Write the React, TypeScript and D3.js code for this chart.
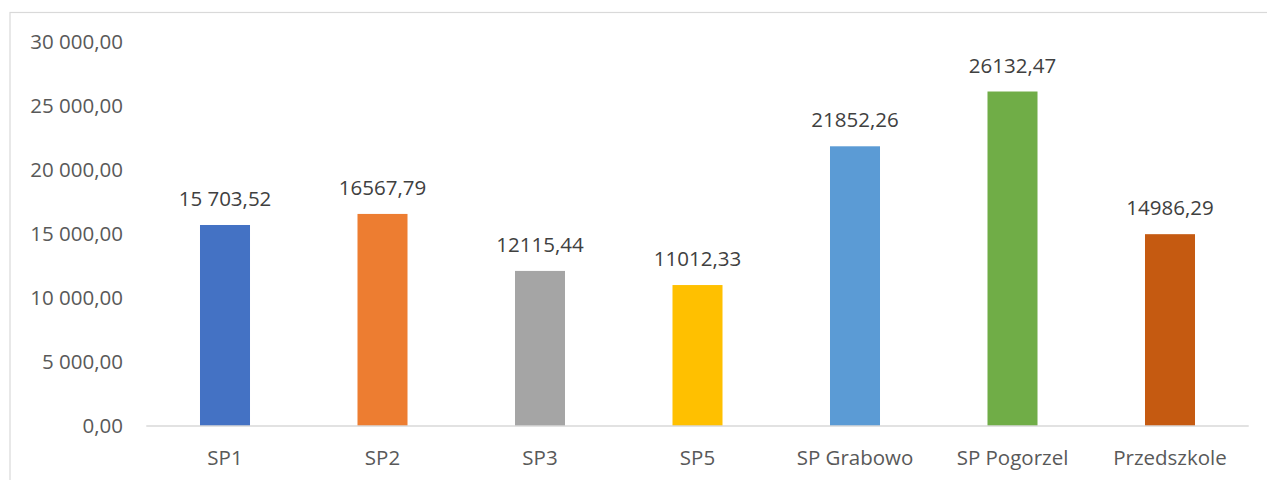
import React from "react";
import * as d3 from "d3";

const categories = ["SP1", "SP2", "SP3", "SP5", "SP Grabowo", "SP Pogorzel", "Przedszkole"];
const values = [15703.52, 16567.79, 12115.44, 11012.33, 21852.26, 26132.47, 14986.29];
const valueLabels = ["15 703,52", "16567,79", "12115,44", "11012,33", "21852,26", "26132,47", "14986,29"];
const colors = ["#4472C4", "#ED7D31", "#A5A5A5", "#FFC000", "#5B9BD5", "#70AD47", "#C55A11"];
const yTicks = [0, 5000, 10000, 15000, 20000, 25000, 30000];
const yTickLabels = ["0,00", "5 000,00", "10 000,00", "15 000,00", "20 000,00", "25 000,00", "30 000,00"];

const W = 1267;
const H = 480;
const FONT = "'Open Sans', sans-serif";

export default function App() {
  const x = d3.scaleBand<string>().domain(categories).range([146.25, 1248.75]).paddingInner(0.6825).paddingOuter(0.34125);
  const y = d3.scaleLinear().domain([0, 30000]).range([426, 42]);
  const bw = x.bandwidth();
  return (
    <svg width={W} height={H} style={{ position: "absolute", left: 0, top: 0, background: "#fff" }}>
      <rect x={10} y={12.5} width={W + 20} height={H + 20} fill="#fff" stroke="#d9d9d9" strokeWidth={1.2} />
      {yTicks.map((t, i) => (
        <text key={t} x={123} y={y(t)} dy="0.36em" textAnchor="end" fontFamily={FONT} fontSize={20.5} fill="#595959">
          {yTickLabels[i]}
        </text>
      ))}
      {categories.map((c, i) => (
        <g key={c}>
          <rect x={x(c)} y={y(values[i])} width={bw} height={y(0) - y(values[i])} fill={colors[i]} />
          <text x={(x(c) as number) + bw / 2} y={y(values[i]) - 19} textAnchor="middle" fontFamily={FONT} fontSize={20.5} fill="#404040">
            {valueLabels[i]}
          </text>
          <text x={(x(c) as number) + bw / 2} y={465} textAnchor="middle" fontFamily={FONT} fontSize={20.5} fill="#595959">
            {c}
          </text>
        </g>
      ))}
      <line x1={146.25} x2={1248.75} y1={y(0)} y2={y(0)} stroke="#d9d9d9" strokeWidth={1.5} />
    </svg>
  );
}
